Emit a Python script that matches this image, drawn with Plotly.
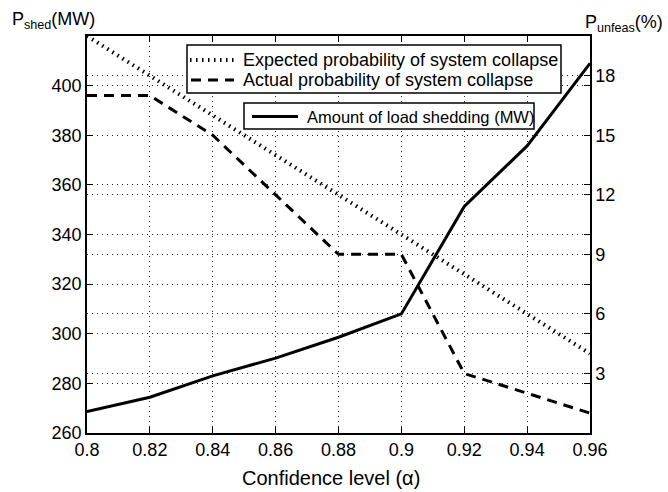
import plotly.graph_objects as go

# ---- data ----
alpha = [0.80, 0.82, 0.84, 0.86, 0.88, 0.90, 0.92, 0.94, 0.96]
load_shedding_mw = [268.6, 274.4, 283.0, 290.2, 298.6, 308.0, 351.3, 375.7, 409.0]
expected_prob = [20, 18, 16, 14, 12, 10, 8, 6, 4]
actual_prob = [17, 17, 15, 12, 9, 9, 3, 2, 1]

x_tickvals = [0.80, 0.82, 0.84, 0.86, 0.88, 0.90, 0.92, 0.94, 0.96]
x_ticktext = ["0.8", "0.82", "0.84", "0.86", "0.88", "0.9", "0.92", "0.94", "0.96"]
left_ticks = [260, 280, 300, 320, 340, 360, 380, 400]
right_ticks = [3, 6, 9, 12, 15, 18]

series_names = ["Expected probability of system collapse",
                "Actual probability of system collapse",
                "Amount of load shedding (MW)"]

FONT = "Liberation Sans, Arial, sans-serif"
DOT = "1.5px,4.5px"
DASH = "10px,7px"
LW = 3

fig = go.Figure()

fig.add_trace(go.Scatter(
    x=alpha, y=expected_prob, yaxis="y2", mode="lines",
    name=series_names[0], line=dict(color="black", width=4, dash=DOT),
))
fig.add_trace(go.Scatter(
    x=alpha, y=actual_prob, yaxis="y2", mode="lines",
    name=series_names[1], line=dict(color="black", width=LW, dash=DASH),
))
fig.add_trace(go.Scatter(
    x=alpha, y=load_shedding_mw, yaxis="y", mode="lines",
    name=series_names[2], line=dict(color="black", width=LW),
))

L, R, T, B = 87, 78, 36, 59
W, H = 668, 492
pw, ph = W - L - R, H - T - B


def px_x(px):
    return (px - L) / pw


def px_y(py):
    return (H - B - py) / ph


grid = dict(showgrid=True, gridcolor="#222222", griddash="1px,4px", gridwidth=1)
axis_common = dict(ticks="inside", ticklen=6, tickcolor="black", tickwidth=1,
                   showline=True, linecolor="black", linewidth=1.5,
                   zeroline=False, tickfont=dict(size=18))

# ---- hand-drawn legend boxes (two separate boxes as in the reference) ----
shapes = []
annotations = []


def add_box(x0, y0, x1, y1):
    shapes.append(dict(type="rect", xref="paper", yref="paper",
                       x0=px_x(x0), x1=px_x(x1), y0=px_y(y1), y1=px_y(y0),
                       line=dict(color="black", width=1.5), fillcolor="white",
                       layer="above"))


def add_entry(xs0, xs1, yc, dash, width, text, tx, size):
    shapes.append(dict(type="line", xref="paper", yref="paper",
                       x0=px_x(xs0), x1=px_x(xs1), y0=px_y(yc), y1=px_y(yc),
                       line=dict(color="black", width=width, dash=dash),
                       layer="above"))
    annotations.append(dict(text=text, xref="paper", yref="paper",
                            x=px_x(tx), y=px_y(yc), xanchor="left",
                            yanchor="middle", showarrow=False,
                            font=dict(size=size)))


add_box(187, 45, 561, 93)
add_entry(190, 234, 60, DOT, 4, series_names[0], 241, 18)
add_entry(191, 234, 80, DASH, LW, series_names[1], 241, 18)
add_box(244, 103, 534, 129)
add_entry(252, 298, 116.5, "solid", LW, series_names[2], 305, 16.5)

annotations += [
    dict(text="P<sub>shed</sub>(MW)", xref="paper", yref="paper",
         x=px_x(10), y=px_y(20), xanchor="left", yanchor="middle",
         showarrow=False, font=dict(size=18)),
    dict(text="P<sub>unfeas</sub>(%)", xref="paper", yref="paper",
         x=px_x(583), y=px_y(23), xanchor="left", yanchor="middle",
         showarrow=False, font=dict(size=18)),
    dict(text="Confidence level (α)", xref="paper", yref="paper",
         x=px_x(331), y=px_y(478), xanchor="center", yanchor="middle",
         showarrow=False, font=dict(size=20)),
]

fig.update_layout(
    width=W, height=H,
    margin=dict(l=L, r=R, t=T, b=B, autoexpand=False),
    paper_bgcolor="white", plot_bgcolor="white",
    font=dict(family=FONT, size=18, color="black"),
    showlegend=False,
    xaxis=dict(range=[0.80, 0.96], tickvals=x_tickvals, ticktext=x_ticktext,
               mirror="ticks", **axis_common, **grid),
    yaxis=dict(range=[260, 420], tickvals=left_ticks, mirror="ticks",
               **axis_common, **grid),
    yaxis2=dict(range=[0, 20], tickvals=right_ticks, overlaying="y",
                side="right", **axis_common, **grid),
    shapes=shapes,
    annotations=annotations,
)

fig.write_html("out.html")
